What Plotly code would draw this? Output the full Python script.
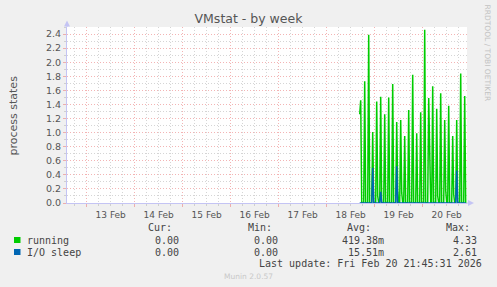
import plotly.graph_objects as go
from datetime import datetime, timedelta

# ---------------- data ----------------
x_range = ["2026-02-12 14:09", "2026-02-20 22:09"]
first_sample_time = "2026-02-18 16:30"
first_running = 1.26
spike_start = "2026-02-18 17:00"          # first spike; one spike every 2 h
spike_step_hours = 2
sample_minutes = 30

running_peaks = [1.46, 1.73, 2.39, 1.01, 1.44, 1.51, 1.26, 1.50, 1.69, 1.15,
                 1.18, 0.95, 1.32, 1.82, 0.99, 1.29, 2.46, 1.49, 1.66, 1.34,
                 1.56, 1.18, 1.38, 0.95, 1.18, 1.84, 1.52]
running_after = [0, 0, 0, 0, 0.10, 0, 0, 0, 0, 0.18,
                 0.15, 0, 0, 0, 0, 0, 0, 0.30, 0, 0.10,
                 0, 0.18, 0, 0.12, 0, 0, 0]
io_sleep_peaks = [0, 0, 0, 0.50, 0, 0.16, 0, 0, 0, 0.52,
                  0, 0, 0, 0, 0, 0, 0, 0, 0, 0,
                  0, 0, 0, 0, 0.46, 0, 0]

series_names = ["running", "I/O sleep"]
series_colors = ["#00cc00", "#0066b3"]
legend_headers = ["Cur:", "Min:", "Avg:", "Max:"]
cur_values = ["0.00", "0.00"]
min_values = ["0.00", "0.00"]
avg_values = ["419.38m", "15.51m"]
max_values = ["4.33", "2.61"]
last_update = "Last update: Fri Feb 20 21:45:31 2026"
title_text = "VMstat - by week"
y_title = "process states"
side_text = "RRDTOOL / TOBI OETIKER"
footer_text = "Munin 2.0.57"

# ---------------- build series at 30-min resolution ----------------
t0 = datetime.strptime(spike_start, "%Y-%m-%d %H:%M")
step = timedelta(minutes=sample_minutes)
times = [datetime.strptime(first_sample_time, "%Y-%m-%d %H:%M")]
run_vals = [first_running]
io_vals = [0.0]
n = len(running_peaks)
for k in range(n):
    tk = t0 + timedelta(hours=spike_step_hours * k)
    times += [tk, tk + step]
    run_vals += [running_peaks[k], running_after[k]]
    io_vals += [io_sleep_peaks[k], 0.0]
    if k < n - 1:
        times += [tk + 2 * step, tk + 3 * step]
        run_vals += [0.0, 0.0]
        io_vals += [0.0, 0.0]

# ---------------- geometry helpers ----------------
W, H = 497, 287
ML, MR, MT, MB = 67, 30, 27, 84
PW, PH = W - ML - MR, H - MT - MB


def px(x):
    return (x - ML) / PW


def py(y):
    return (H - MB - y) / PH


MAJOR = "rgba(235,130,130,0.6)"
MINOR = "rgba(185,185,185,0.6)"
AXIS = "#c4c4f4"
TXT = "#555555"

fig = go.Figure()
fig.add_trace(go.Scatter(x=times, y=run_vals, mode="lines",
                         line=dict(color=series_colors[0], width=1.5),
                         name=series_names[0], hoverinfo="skip"))
fig.add_trace(go.Scatter(x=times, y=io_vals, mode="lines",
                         line=dict(color=series_colors[1], width=1.5),
                         name=series_names[1], hoverinfo="skip"))

fig.update_layout(
    width=W, height=H, autosize=False,
    margin=dict(l=ML, r=MR, t=MT, b=MB, pad=0),
    paper_bgcolor="#f0f0f0", plot_bgcolor="#ffffff",
    showlegend=False,
    font=dict(family="DejaVu Sans", color=TXT),
    title=dict(text=title_text, x=0.5, xref="container", xanchor="center",
               y=1 - 18.5 / H, yref="container", yanchor="middle",
               font=dict(size=12.5, color="#555555", family="DejaVu Sans")),
)

fig.update_xaxes(
    type="date", range=x_range, tick0="2026-02-13", dtick=86400000,
    ticklabelmode="period", tickformat="%d %b",
    tickfont=dict(size=9, color=TXT, family="DejaVu Sans"),
    showgrid=True, gridcolor=MAJOR, griddash="1px,2px", gridwidth=1,
    ticks="outside", ticklen=3, tickcolor=MAJOR,
    minor=dict(dtick=21600000, showgrid=True, gridcolor=MINOR,
               griddash="1px,2px", ticks="outside", ticklen=2, tickcolor=MINOR),
    showline=True, linecolor=AXIS, linewidth=1, zeroline=False,
    fixedrange=True,
)
fig.update_yaxes(
    range=[0, 2.5], tick0=0, dtick=0.2, tickformat=".1f",
    tickfont=dict(size=9.5, color=TXT, family="DejaVu Sans"),
    showgrid=True, gridcolor=MAJOR, griddash="1px,2px", gridwidth=1,
    ticks="outside", ticklen=3, tickcolor=MAJOR,
    minor=dict(dtick=0.1, showgrid=True, gridcolor=MINOR,
               griddash="1px,2px", ticks="outside", ticklen=2, tickcolor=MINOR),
    showline=True, linecolor=AXIS, linewidth=1, zeroline=False,
    fixedrange=True,
)

shapes = []
# axis arrows
shapes.append(dict(type="line", xref="paper", yref="paper",
                   x0=px(67), x1=px(67), y0=1, y1=py(24),
                   line=dict(color=AXIS, width=1)))
shapes.append(dict(type="path", xref="paper", yref="paper",
                   path=f"M {px(64)} {py(26.5)} L {px(70)} {py(26.5)} L {px(67)} {py(20.5)} Z",
                   fillcolor=AXIS, line=dict(width=0)))
shapes.append(dict(type="line", xref="paper", yref="paper",
                   x0=1, x1=px(470), y0=0, y1=0,
                   line=dict(color=AXIS, width=1)))
shapes.append(dict(type="path", xref="paper", yref="paper",
                   path=f"M {px(468)} {py(200)} L {px(468)} {py(206)} L {px(474)} {py(203)} Z",
                   fillcolor=AXIS, line=dict(width=0)))
# legend colour squares
for i, c in enumerate(series_colors):
    yc = 240 + 12 * i
    shapes.append(dict(type="rect", xref="paper", yref="paper",
                       x0=px(14), x1=px(20.5), y0=py(yc + 3), y1=py(yc - 3),
                       fillcolor=c, line=dict(width=0)))
fig.update_layout(shapes=shapes)

MONO = dict(family="DejaVu Sans Mono", size=10, color="#444444")
ann = []


def text(s, x, y, anchor="left", font=MONO, angle=0):
    ann.append(dict(text=s, x=px(x), y=py(y), xref="paper", yref="paper",
                    xanchor=anchor, yanchor="middle", showarrow=False,
                    font=font, textangle=angle, borderpad=0))


text(y_title, 12.5, 115, "center",
     dict(family="DejaVu Sans", size=11, color=TXT), -90)
text(side_text, 487.5, 53, "center",
     dict(family="DejaVu Sans", size=7.5, color="#c2c2c2"), 90)

header_right = [173, 273, 372, 471]
value_right = [180, 279, 385, 477.5]
for h, xr in zip(legend_headers, header_right):
    text(h, xr, 227.5, "right")
for i, name in enumerate(series_names):
    yc = 240 + 12 * i
    text(name, 26, yc, "left")
    for col, xr in zip([cur_values, min_values, avg_values, max_values], value_right):
        text(col[i], xr, yc, "right")
text(last_update, 483, 263.5, "right")
text(footer_text, 248, 276.5, "center",
     dict(family="DejaVu Sans", size=7.5, color="#c8c8c8"))
fig.update_layout(annotations=ann)

fig.write_html("out.html", config={"displayModeBar": False})
